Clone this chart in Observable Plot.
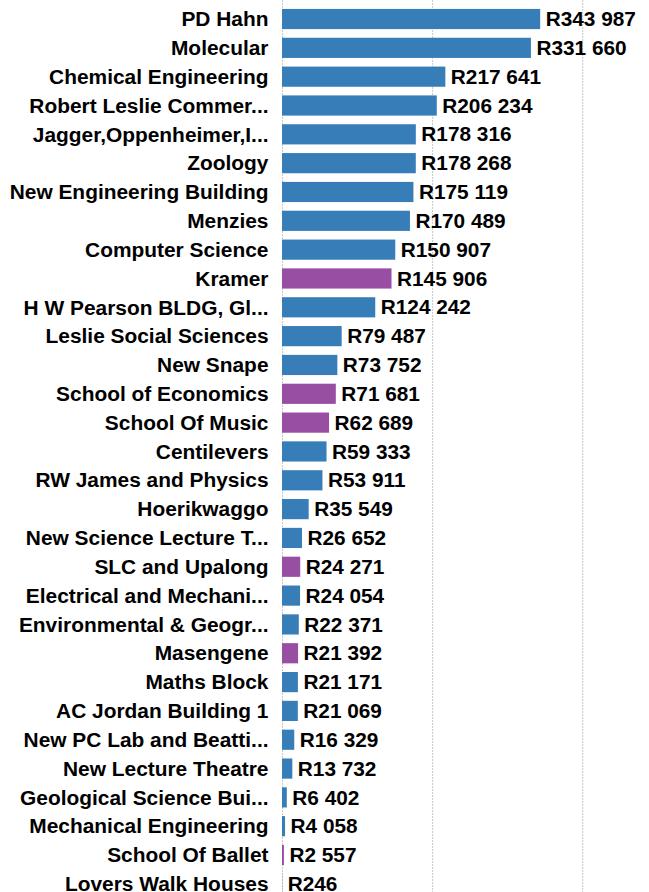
<!DOCTYPE html>
<html>
<head>
<meta charset="utf-8">
<script src="https://cdn.jsdelivr.net/npm/d3@7"></script>
<script src="https://cdn.jsdelivr.net/npm/@observablehq/plot@0.6"></script>
<style>
  html, body { margin: 0; padding: 0; background: #fff; }
  svg { display: block; }
</style>
</head>
<body>
<div id="chart"></div>
<script>
const buildings = [
  "PD Hahn", "Molecular", "Chemical Engineering", "Robert Leslie Commer...",
  "Jagger,Oppenheimer,I...", "Zoology", "New Engineering Building", "Menzies",
  "Computer Science", "Kramer", "H W Pearson BLDG, Gl...", "Leslie Social Sciences",
  "New Snape", "School of Economics", "School Of Music", "Centilevers",
  "RW James and Physics", "Hoerikwaggo", "New Science Lecture T...", "SLC and Upalong",
  "Electrical and Mechani...", "Environmental & Geogr...", "Masengene", "Maths Block",
  "AC Jordan Building 1", "New PC Lab and Beatti...", "New Lecture Theatre",
  "Geological Science Bui...", "Mechanical Engineering", "School Of Ballet", "Lovers Walk Houses"
];
const amounts = [
  343987, 331660, 217641, 206234,
  178316, 178268, 175119, 170489,
  150907, 145906, 124242, 79487,
  73752, 71681, 62689, 59333,
  53911, 35549, 26652, 24271,
  24054, 22371, 21392, 21171,
  21069, 16329, 13732,
  6402, 4058, 2557, 246
];
const groups = [
  "A", "A", "A", "A",
  "A", "A", "A", "A",
  "A", "B", "A", "A",
  "A", "B", "B", "A",
  "A", "A", "A", "B",
  "A", "A", "B", "A",
  "A", "A", "A",
  "A", "A", "B", "B"
];
const gridTicks = [0, 200000, 400000];

const data = buildings.map((b, i) => ({building: b, amount: amounts[i], group: groups[i]}));
const fmt = v => "R" + d3.format(",")(v).replace(/,/g, " ");

const chart = Plot.plot({
  width: 649,
  height: 892,
  marginLeft: 282,
  marginRight: 0,
  marginTop: 0,
  marginBottom: 0,
  style: {fontFamily: "'Liberation Sans', Arial, sans-serif"},
  x: {domain: [0, 489000], range: [282, 649], axis: null},
  y: {domain: buildings, range: [4.6, 898.3], paddingInner: 0.3, paddingOuter: 0.15, round: false, label: null},
  color: {domain: ["A", "B"], range: ["#377eb8", "#984ea3"]},
  marks: [
    Plot.gridX(gridTicks, {stroke: "#c8c8c8", strokeOpacity: 1, strokeDasharray: "2,1"}),
    Plot.barX(data, {x: "amount", y: "building", fill: "group"}),
    Plot.text(data, {x: "amount", y: "building", text: d => fmt(d.amount), textAnchor: "start", dx: 5,
      fontSize: 20.8, fontWeight: "bold", fill: "#000"}),
    Plot.axisY({tickSize: 0, tickPadding: 14, fontSize: 20.9, fontWeight: "bold", label: null, fill: "#000"})
  ]
});
document.getElementById("chart").appendChild(chart);
</script>
</body>
</html>
